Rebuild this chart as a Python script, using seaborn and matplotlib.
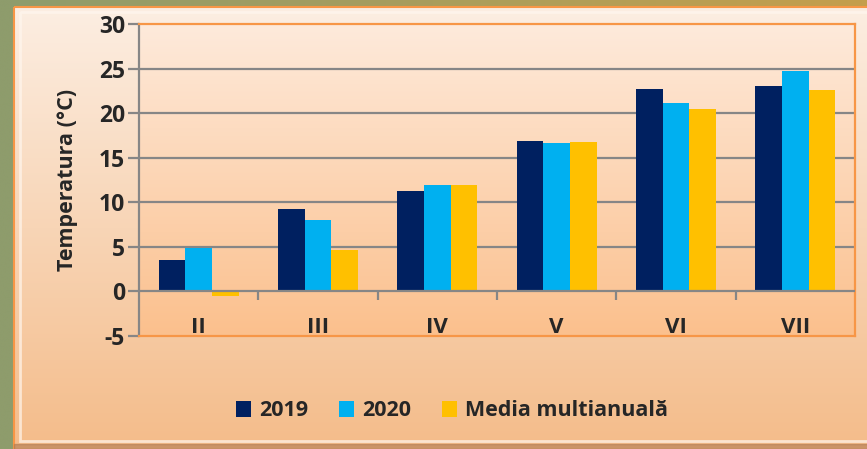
import matplotlib.pyplot as plt
import matplotlib.colors as mcolors
import seaborn as sns
import numpy as np
import pandas as pd

# Date
luni = ['II', 'III', 'IV', 'V', 'VI', 'VII']
t_2019 = [3.5, 9.3, 11.3, 16.9, 22.7, 23.1]
t_2020 = [4.9, 8.0, 11.9, 16.6, 21.1, 24.7]
t_media = [-0.5, 4.6, 11.9, 16.8, 20.5, 22.6]
serii = ['2019', '2020', 'Media multianuală']
culori = ['#002060', '#00B0F0', '#FFC000']

df = pd.DataFrame({
    'luna': luni * 3,
    'serie': [serii[0]] * 6 + [serii[1]] * 6 + [serii[2]] * 6,
    'temp': t_2019 + t_2020 + t_media,
})

sns.set_style('white')
plt.rcParams['font.family'] = ['Open Sans', 'DejaVu Sans']
plt.rcParams['font.weight'] = 'bold'
plt.rcParams['axes.unicode_minus'] = False

W, H = 867, 449
fig = plt.figure(figsize=(W / 100, H / 100), dpi=100)

# ---- fundal (pixeli) ----
bg = fig.add_axes([0, 0, 1, 1], zorder=-5)
bg.set_xlim(0, W)
bg.set_ylim(H, 0)
bg.axis('off')


def gradient(ax, x0, x1, y0, y1, c_top, c_bot, horizontal=False):
    cmap = mcolors.LinearSegmentedColormap.from_list('g', [c_top, c_bot])
    g = np.linspace(0, 1, 256)
    img = g.reshape(1, -1) if horizontal else g.reshape(-1, 1)
    ax.imshow(img, cmap=cmap, extent=[x0, x1, y1, y0], aspect='auto',
              interpolation='bicubic')


gradient(bg, 0, W, 0, H, '#8E9C6C', '#C49E4C', horizontal=True)
gradient(bg, 0, 16, 0, H, '#8E9C6C', '#8E9C6C')
# panou grafic
gradient(bg, 14, W, 7, H, '#FCEEE2', '#F4BC8A')
bg.add_patch(plt.Rectangle((14, 7), W, H, fill=False, ec='#F79646', lw=1.5))
bg.add_patch(plt.Rectangle((20, 12), W, H - 20, fill=False, ec='#FFF6EE', lw=2, alpha=0.7))
bg.add_patch(plt.Rectangle((14, H - 5), W, 5, color='#B07A50', alpha=0.6))
# zona de reprezentare
px0, px1, py0, py1 = 139, 855, 24, 336
gradient(bg, px0, px1, py0, py1, '#FEEADB', '#FBC08D')
bg.set_xlim(0, W)
bg.set_ylim(H, 0)

# ---- grafic ----
ax = fig.add_axes([px0 / W, 1 - py1 / H, (px1 - px0) / W, (py1 - py0) / H])
ax.set_facecolor('none')

sns.barplot(data=df, x='luna', y='temp', hue='serie', palette=culori,
            width=0.67, gap=0, saturation=1, linewidth=0, ax=ax, zorder=3)

ax.set_ylim(-5, 30)
ax.set_xlim(-0.5, len(luni) - 0.5)
ax.set_yticks(range(-5, 31, 5))
for v in range(5, 26, 5):
    ax.axhline(v, color='#868686', lw=1.6, zorder=1)
ax.axhline(0, color='#868686', lw=1.6, zorder=4)
ax.vlines(np.arange(0.5, len(luni) - 0.5), -1.0, 0, color='#868686', lw=1.6, zorder=4)

for s in ['top', 'right', 'bottom']:
    ax.spines[s].set_color('#F79646')
    ax.spines[s].set_linewidth(1.6)
ax.spines['left'].set_color('#868686')
ax.spines['left'].set_linewidth(1.6)

ax.tick_params(axis='y', length=8, width=1.6, color='#868686', labelsize=16.5, pad=2, left=True)
ax.tick_params(axis='x', length=0, labelsize=16, pad=-14)
for lab in ax.get_yticklabels() + ax.get_xticklabels():
    lab.set_fontweight('bold')

ax.set_xlabel('')
ax.set_ylabel('Temperatura (°C)', fontsize=15.5, fontweight='bold', labelpad=15)

handles, labels = ax.get_legend_handles_labels()
ax.legend(handles, labels, loc='center', bbox_to_anchor=(452 / W, 1 - 411 / H),
          bbox_transform=fig.transFigure, ncol=3, frameon=False,
          prop={'size': 15.5, 'weight': 'bold'}, handlelength=0.7, handleheight=0.7,
          handletextpad=0.4, columnspacing=1.4)

plt.savefig('out.png', dpi=100)
